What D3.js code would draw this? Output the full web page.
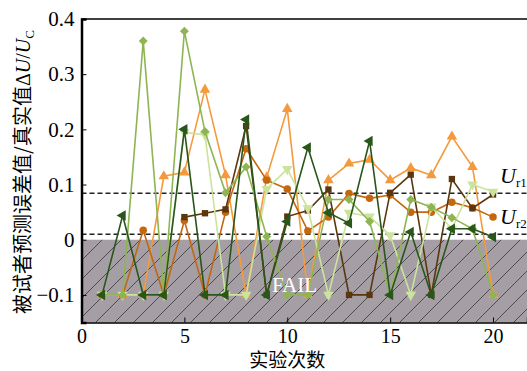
<!DOCTYPE html>
<meta charset="utf-8">
<style>
body { margin: 0; background: #fff; }
text { font-family: "Liberation Serif", "DejaVu Serif", serif; }
.cjk { font-family: "Noto Sans CJK SC", sans-serif; }
.axis path, .axis line { stroke: #000; }
</style>
<body>
<script src="https://cdn.jsdelivr.net/npm/d3@7"></script>
<script>

// trial numbers and the six subjects' values (-0.1 = FAIL)
var trials = d3.range(1, 21);
var s1 = [-0.1,-0.1,-0.1,0.115,0.122,0.272,0.117,-0.1,0.113,0.237,-0.1,0.108,0.138,0.145,0.108,0.13,0.117,0.187,0.132,-0.1];
var s2 = [-0.1,-0.1,0.017,-0.1,0.035,-0.1,0.05,0.165,0.108,0.092,0.016,0.041,0.084,0.075,0.081,0.05,0.05,0.068,0.058,0.041];
var s3 = [null,null,null,null,0.041,0.048,0.055,0.206,-0.1,0.042,0.053,0.091,-0.1,-0.1,0.085,0.118,-0.1,0.11,0.057,0.082];
var s4 = [-0.1,-0.1,0.36,-0.1,0.378,0.196,0.085,0.132,0.006,-0.1,-0.1,0.073,0.073,0.033,-0.1,0.073,0.059,0.04,0.02,-0.1];
var s5 = [-0.1,-0.1,-0.1,-0.1,0.195,0.19,-0.1,-0.1,0.092,0.128,0.057,-0.1,0.049,0.042,0.008,-0.1,0.06,0.02,0.1,0.087];
var s6 = [-0.1,0.044,-0.1,-0.1,0.2,-0.1,-0.1,0.218,-0.1,0.033,0.167,0.049,0.03,0.179,-0.1,0.014,-0.1,0.02,0.02,0.005];

var xTicks = [0, 5, 10, 15, 20];
var yTicks = [-0.1, 0, 0.1, 0.2, 0.3, 0.4];
var ur1 = 0.084, ur2 = 0.01;

// drawing order matters for which marker ends up on top
var series = [
  {v: s1, color: "#f59a3c", shape: d3.symbolTriangle, rot: 0, size: 48},
  {v: s2, color: "#c4670f", shape: d3.symbolCircle, rot: 0, size: 44},
  {v: s3, color: "#5a370e", shape: d3.symbolSquare, rot: 0, size: 40},
  {v: s5, color: "#cbe39c", shape: d3.symbolTriangle, rot: 180, size: 48},
  {v: s4, color: "#8fb553", shape: d3.symbolSquare, rot: 45, size: 40},
  {v: s6, color: "#29561a", shape: d3.symbolTriangle, rot: -90, size: 48}
];

var W = 527, H = 371;
var mLeft = 81.5, mTop = 19, mBottom = 322.5;

var x = d3.scaleLinear().domain([0, 21.65]).range([mLeft, W]);
var y = d3.scaleLinear().domain([-0.15, 0.4]).range([mBottom, mTop]);

var svg = d3.select("body").append("svg")
    .attr("width", W).attr("height", H);

// hatch pattern for the FAIL zone
var hs = 19;
var pat = svg.append("defs").append("pattern")
    .attr("id", "hatch").attr("patternUnits", "userSpaceOnUse")
    .attr("width", hs).attr("height", hs);
pat.append("rect").attr("width", hs).attr("height", hs).attr("fill", "#a59fa5");
pat.append("path")
    .attr("d", "M0," + hs + " L" + hs + ",0 M-3,3 L3,-3 M" + (hs - 3) + "," + (hs + 3) + " L" + (hs + 3) + "," + (hs - 3))
    .attr("stroke", "#4f4a4f").attr("stroke-width", 1);

svg.append("rect")
    .attr("x", mLeft).attr("y", y(0))
    .attr("width", W - mLeft).attr("height", mBottom - y(0))
    .attr("fill", "url(#hatch)");

// reference lines
[ur1, ur2].forEach(function(u) {
  svg.append("line")
    .attr("x1", mLeft).attr("x2", W)
    .attr("y1", y(u)).attr("y2", y(u))
    .attr("stroke", "#222").attr("stroke-width", 1.5)
    .attr("stroke-dasharray", "5,3");
});

function urLabel(sub, yy) {
  var t = svg.append("text").attr("x", 500).attr("y", yy);
  t.append("tspan").attr("font-style", "italic").attr("font-size", 22).text("U");
  t.append("tspan").attr("font-size", 13).attr("dy", 4).text(sub);
}
urLabel("r1", 183);
urLabel("r2", 224);

// lines and markers
var line = d3.line()
    .defined(function(d) { return d[1] != null; })
    .x(function(d) { return x(d[0]); })
    .y(function(d) { return y(d[1]); });

series.forEach(function(s) {
  var pts = trials.map(function(t, i) { return [t, s.v[i]]; });
  svg.append("path")
    .datum(pts)
    .attr("fill", "none")
    .attr("stroke", s.color)
    .attr("stroke-width", 1.6)
    .attr("d", line);
  svg.append("g").selectAll("path")
    .data(pts.filter(function(d) { return d[1] != null; }))
    .enter().append("path")
    .attr("d", d3.symbol().type(s.shape).size(s.size))
    .attr("fill", s.color)
    .attr("transform", function(d) {
      return "translate(" + x(d[0]) + "," + y(d[1]) + ") rotate(" + s.rot + ")";
    });
});

svg.append("text")
    .attr("x", 272).attr("y", 292)
    .attr("font-size", 21).attr("fill", "#fff")
    .text("FAIL");

// axes
var fmt = function(d) { return d === 0 ? "0" : d3.format(".1f")(d); };

var yAxis = svg.append("g")
    .attr("class", "axis")
    .attr("transform", "translate(" + mLeft + ",0)")
    .call(d3.axisLeft(y).tickValues(yTicks).tickSize(-5).tickPadding(7).tickFormat(fmt));
yAxis.select(".domain").attr("stroke", "#444").attr("stroke-width", 2.5);
yAxis.selectAll("text").attr("font-size", 21).attr("fill", "#000")
    .style("font-family", "Liberation Serif");

var xAxis = svg.append("g")
    .attr("class", "axis")
    .attr("transform", "translate(0," + mBottom + ")")
    .call(d3.axisBottom(x).tickValues(xTicks).tickSize(-5).tickPadding(6));
xAxis.select(".domain").attr("stroke-width", 1.5);
xAxis.selectAll("text").attr("font-size", 20).attr("fill", "#000")
    .style("font-family", "Liberation Serif");

svg.append("line")
    .attr("x1", mLeft).attr("x2", W).attr("y1", mTop).attr("y2", mTop)
    .attr("stroke", "#000").attr("stroke-width", 1.5);

// titles
svg.append("text")
    .attr("class", "cjk")
    .attr("x", x(10)).attr("y", 367)
    .attr("text-anchor", "middle").attr("font-size", 19)
    .text("实验次数");

var yt = svg.append("text")
    .attr("transform", "translate(30,172) rotate(-90)")
    .attr("text-anchor", "middle").attr("font-size", 20);
yt.append("tspan").attr("class", "cjk").text("被试者预测误差值/真实值");
yt.append("tspan").text("Δ");
yt.append("tspan").attr("font-style", "italic").text("U");
yt.append("tspan").text("/");
yt.append("tspan").attr("font-style", "italic").text("U");
yt.append("tspan").attr("font-size", 13).attr("dy", 4).text("C");

</script>
</body>
